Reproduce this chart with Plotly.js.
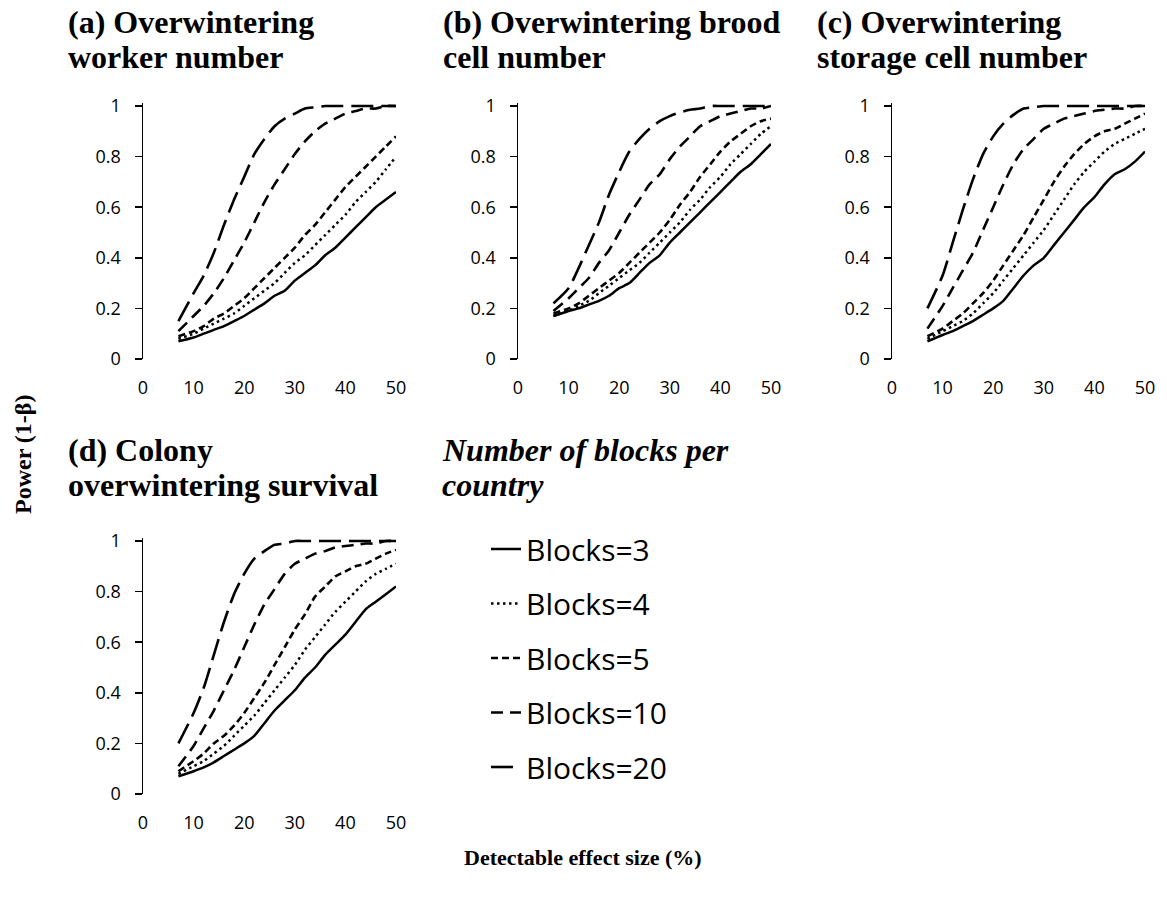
<!DOCTYPE html>
<html><head><meta charset="utf-8">
<script src="https://cdn.plot.ly/plotly-3.0.1.min.js"></script>
<style>body{margin:0;background:#fff}</style>
</head><body>
<div id="chart" style="width:1167px;height:901px"></div>
<script>
// ---------- DATA ----------
const effectSize = [7,10,12,14,16,18,20,22,24,26,28,30,32,34,36,38,40,42,44,46,48,50];
const seriesNames = ["Blocks=3","Blocks=4","Blocks=5","Blocks=10","Blocks=20"];
const xTicks = [0,10,20,30,40,50];
const yTicks = [0,0.2,0.4,0.6,0.8,1];

// (a) Overwintering worker number
const workerB3  = [.07,.085,.10,.115,.13,.15,.17,.195,.22,.25,.27,.31,.34,.37,.41,.44,.48,.52,.56,.60,.63,.66];
const workerB4  = [.08,.10,.12,.14,.16,.18,.21,.24,.27,.30,.34,.38,.41,.45,.49,.53,.57,.62,.66,.70,.75,.80];
const workerB5  = [.09,.11,.13,.16,.18,.21,.24,.28,.32,.36,.40,.44,.49,.53,.58,.63,.68,.72,.76,.80,.84,.88];
const workerB10 = [.11,.17,.21,.26,.32,.39,.46,.54,.62,.69,.75,.81,.86,.90,.93,.95,.97,.98,.99,.99,1,1];
const workerB20 = [.15,.26,.33,.42,.53,.63,.72,.81,.87,.92,.95,.97,.99,.995,1,1,1,1,1,1,1,1];

// (b) Overwintering brood cell number
const broodB3  = [.17,.19,.20,.215,.23,.25,.28,.30,.34,.38,.41,.46,.50,.54,.58,.62,.66,.70,.74,.77,.81,.85];
const broodB4  = [.17,.19,.21,.23,.26,.29,.32,.35,.38,.42,.46,.50,.54,.59,.63,.68,.72,.77,.81,.85,.89,.92];
const broodB5  = [.18,.20,.22,.25,.28,.31,.34,.38,.42,.46,.50,.55,.61,.66,.72,.77,.82,.86,.89,.92,.94,.95];
const broodB10 = [.19,.24,.28,.32,.38,.43,.50,.57,.63,.69,.73,.79,.84,.88,.92,.94,.96,.97,.98,.99,.99,1];
const broodB20 = [.22,.28,.36,.45,.54,.65,.74,.82,.87,.91,.94,.96,.975,.985,.99,1,1,1,1,1,1,1];

// (c) Overwintering storage cell number
const storageB3  = [.07,.095,.11,.13,.15,.175,.20,.23,.28,.33,.37,.40,.45,.50,.55,.60,.64,.69,.73,.75,.78,.82];
const storageB4  = [.08,.11,.13,.15,.18,.22,.26,.31,.36,.41,.46,.51,.57,.63,.69,.74,.78,.82,.85,.87,.89,.91];
const storageB5  = [.09,.12,.15,.18,.22,.26,.31,.37,.43,.49,.56,.63,.70,.76,.81,.85,.88,.90,.91,.93,.95,.97];
const storageB10 = [.12,.21,.28,.35,.42,.51,.60,.69,.77,.83,.87,.91,.93,.95,.96,.97,.98,.985,.99,.99,1,1];
const storageB20 = [.20,.33,.46,.59,.71,.81,.88,.93,.965,.99,.995,1,1,1,1,1,1,1,1,1,1,1];

// (d) Colony overwintering survival
const survivalB3  = [.07,.09,.105,.125,.15,.175,.20,.23,.28,.33,.37,.41,.46,.50,.55,.59,.63,.68,.73,.76,.79,.82];
const survivalB4  = [.08,.11,.13,.16,.19,.23,.27,.31,.36,.41,.46,.51,.57,.62,.67,.72,.76,.80,.84,.87,.89,.91];
const survivalB5  = [.09,.13,.16,.20,.23,.27,.32,.38,.44,.51,.58,.65,.71,.78,.82,.86,.88,.90,.91,.93,.95,.965];
const survivalB10 = [.11,.19,.26,.33,.41,.49,.58,.67,.75,.81,.87,.91,.93,.95,.96,.975,.98,.985,.99,.99,1,1];
const survivalB20 = [.20,.32,.42,.55,.68,.79,.87,.93,.96,.985,.99,1,1,1,1,1,1,1,1,1,1,1];

const panelTitles = [
  ["(a) Overwintering", "worker number"],
  ["(b) Overwintering brood", "cell number"],
  ["(c) Overwintering", "storage cell number"],
  ["(d) Colony", "overwintering survival"]
];
const yTitle = "Power (1-β)";
const xTitle = "Detectable effect size (%)";
const legendTitle = ["Number of blocks per", "country"];

// ---------- LAYOUT HELPERS ----------
const W = 1167, H = 901;
const px = v => v / W;
const py = v => 1 - v / H;

const panelData = [
  [workerB3, workerB4, workerB5, workerB10, workerB20],
  [broodB3, broodB4, broodB5, broodB10, broodB20],
  [storageB3, storageB4, storageB5, storageB10, storageB20],
  [survivalB3, survivalB4, survivalB5, survivalB10, survivalB20]
];
// plot-area pixel boxes: [left, right, y at value 0]
const boxes = [[143,396,359],[518,771,359],[892,1145,359],[143,396,794]];
const titleRows = [[22,57],[22,57],[22,57],[450,485]];
const unitH = 253;
const yMax = 1.012;

const styles = [
  {dash:"solid", width:2.5},
  {dash:"2.5px,3.5px", width:2.5},
  {dash:"7px,4px", width:2.6},
  {dash:"12px,7px", width:2.6},
  {dash:"22px,8px", width:2.6}
];

const serif = "'Liberation Serif', 'Times New Roman', serif";
const sans = "'Open Sans', Carlito, Lato, sans-serif";
const tickFont = {family:sans, size:18, color:"#000"};
const traces = [];
const layout = {
  width: W, height: H,
  margin:{l:0,r:0,t:0,b:0},
  paper_bgcolor:"#fff", plot_bgcolor:"#fff",
  showlegend:true,
  legend:{
    x: px(486), y: py(523), xanchor:"left", yanchor:"top",
    traceorder:"grouped", tracegroupgap: 12.5,
    font:{family:sans, size:30, color:"#000"},
    bgcolor:"rgba(0,0,0,0)"
  },
  annotations: [],
  font:{family:sans, color:"#000"}
};

boxes.forEach((b, i) => {
  const ax = i === 0 ? "" : String(i+1);
  const x0 = b[0], x1 = b[1], y0 = b[2];
  const yTop = y0 - unitH * yMax;
  layout["xaxis"+ax] = {
    domain:[px(x0), px(x1)], range:[0,50], anchor:"y"+ax,
    tickvals:xTicks, showline:false, ticks:"", showgrid:false, zeroline:false,
    tickfont:tickFont, ticklabelstandoff:16, fixedrange:true
  };
  layout["yaxis"+ax] = {
    domain:[py(y0), py(yTop)], range:[0,yMax], anchor:"x"+ax,
    tickvals:yTicks, ticktext:yTicks.map(String),
    showline:true, linecolor:"#000", linewidth:1.5, mirror:false,
    ticks:"outside", ticklen:7, tickwidth:1.5, tickcolor:"#000",
    ticklabelstandoff:10,
    showgrid:false, zeroline:false, tickfont:tickFont, fixedrange:true
  };
  panelData[i].forEach((vals, k) => {
    traces.push({
      type:"scatter", mode:"lines",
      x: effectSize, y: vals,
      xaxis:"x"+ax, yaxis:"y"+ax,
      name: seriesNames[k], legendgroup: seriesNames[k],
      showlegend: i === 0,
      line:{color:"#000", width:styles[k].width, dash:styles[k].dash, shape:"spline", smoothing:0.6},
      hoverinfo:"skip"
    });
  });
  panelTitles[i].forEach((line, j) => {
    layout.annotations.push({
      text:"<b>"+line+"</b>", xref:"paper", yref:"paper",
      x: px(x0 - 77), y: py(titleRows[i][j]), xanchor:"left", yanchor:"middle",
      align:"left", showarrow:false,
      font:{family:serif, size:32, color:"#000"}
    });
  });
});

legendTitle.forEach((line, j) => {
  layout.annotations.push({
    text:"<b><i>"+line+"</i></b>", xref:"paper", yref:"paper",
    x: px(440), y: py(titleRows[3][j]), xanchor:"left", yanchor:"middle", align:"left", showarrow:false,
    font:{family:serif, size:32, color:"#000"}
  });
});
layout.annotations.push({
  text:"<b>"+yTitle+"</b>", xref:"paper", yref:"paper",
  x: px(23), y: py(455), xanchor:"center", yanchor:"middle", textangle:-90, showarrow:false,
  font:{family:serif, size:24, color:"#000"}
});
layout.annotations.push({
  text:"<b>"+xTitle+"</b>", xref:"paper", yref:"paper",
  x: px(583), y: py(857), xanchor:"center", yanchor:"middle", showarrow:false,
  font:{family:serif, size:22, color:"#000"}
});

Plotly.newPlot("chart", traces, layout, {displayModeBar:false, staticPlot:true});
</script>
</body></html>
